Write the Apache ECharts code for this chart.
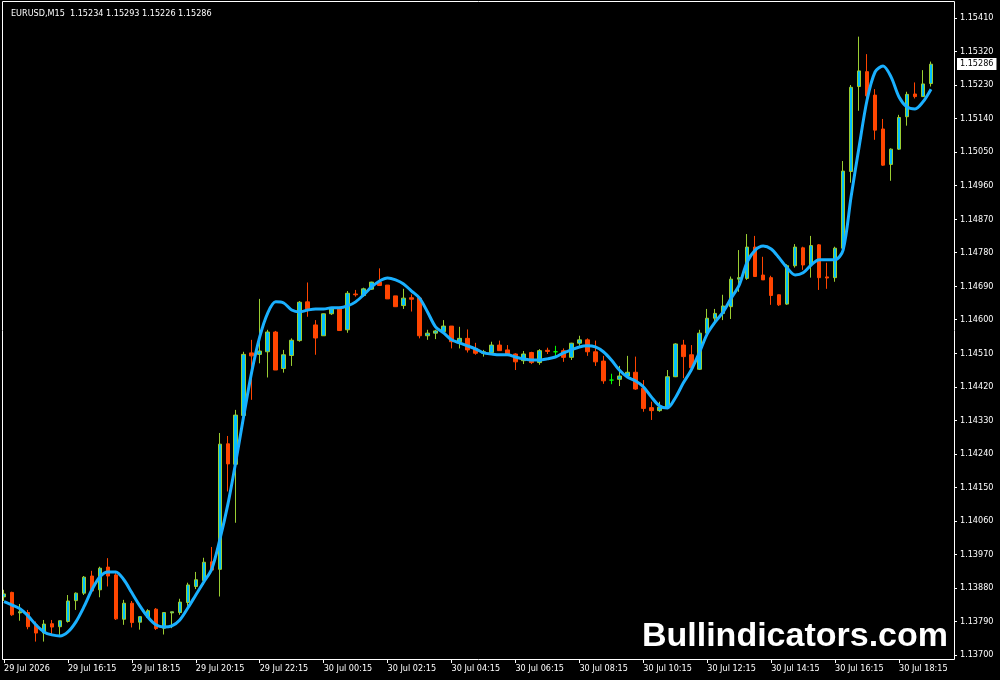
<!DOCTYPE html>
<html><head><meta charset="utf-8">
<script src="https://cdn.jsdelivr.net/npm/echarts@6/dist/echarts.min.js"></script>
<style>html,body{margin:0;padding:0;background:#000}#c{width:1000px;height:680px}</style>
</head><body><div id="c"></div>
<script>
const symbolName = 'EURUSD,M15';
const tickLabels = ['29 Jul 2026','29 Jul 16:15','29 Jul 18:15','29 Jul 20:15','29 Jul 22:15','30 Jul 00:15','30 Jul 02:15','30 Jul 04:15','30 Jul 06:15','30 Jul 08:15','30 Jul 10:15','30 Jul 12:15','30 Jul 14:15','30 Jul 16:15','30 Jul 18:15'];
const yTickValues = [1.13700,1.13790,1.13880,1.13970,1.14060,1.14150,1.14240,1.14330,1.14420,1.14510,1.14600,1.14690,1.14780,1.14870,1.14960,1.15050,1.15140,1.15230,1.15320,1.15410];

const open = [1.13856,1.13868,1.13813,1.13814,1.13781,1.13759,1.13784,1.13776,1.13790,1.13846,
1.13866,1.13912,1.13875,1.13936,1.13915,1.13796,1.13839,1.13788,1.13801,1.13823,
1.13772,1.13813,1.13814,1.13841,1.13884,1.13900,1.13950,1.13930,1.14267,1.14212,
1.14343,1.14511,1.14507,1.14514,1.14567,1.14469,1.14504,1.14544,1.14648,1.14586,
1.14557,1.14616,1.14629,1.14573,1.14669,1.14665,1.14682,1.14701,1.14693,1.14664,
1.14638,1.14659,1.14658,1.14557,1.14564,1.14568,1.14583,1.14541,1.14550,1.14523,
1.14510,1.14512,1.14532,1.14519,1.14508,1.14490,1.14512,1.14485,1.14518,1.14514,
1.14517,1.14499,1.14537,1.14546,1.14514,1.14489,1.14438,1.14440,1.14449,1.14459,
1.14416,1.14364,1.14356,1.14365,1.14447,1.14532,1.14506,1.14467,1.14564,1.14604,
1.14617,1.14635,1.14709,1.14711,1.14795,1.14720,1.14713,1.14667,1.14642,1.14745,
1.14793,1.14747,1.14801,1.14715,1.14713,1.14792,1.14998,1.15226,1.15266,1.15203,
1.15112,1.15017,1.15058,1.15145,1.15206,1.15199,1.15234];
const high = [1.13875,1.13870,1.13837,1.13821,1.13790,1.13794,1.13794,1.13792,1.13861,1.13868,
1.13912,1.13926,1.13937,1.13960,1.13920,1.13848,1.13845,1.13803,1.13823,1.13826,
1.13814,1.13816,1.13851,1.13894,1.13923,1.13961,1.13990,1.14296,1.14288,1.14358,
1.14514,1.14546,1.14656,1.14573,1.14570,1.14519,1.14550,1.14650,1.14700,1.14599,
1.14617,1.14632,1.14635,1.14677,1.14680,1.14686,1.14702,1.14738,1.14693,1.14664,
1.14683,1.14668,1.14662,1.14573,1.14573,1.14599,1.14583,1.14581,1.14574,1.14538,
1.14519,1.14541,1.14544,1.14532,1.14510,1.14516,1.14514,1.14521,1.14525,1.14530,
1.14523,1.14538,1.14557,1.14550,1.14544,1.14503,1.14455,1.14476,1.14503,1.14501,
1.14438,1.14380,1.14380,1.14465,1.14537,1.14546,1.14532,1.14573,1.14629,1.14629,
1.14667,1.14716,1.14787,1.14830,1.14825,1.14769,1.14718,1.14668,1.14749,1.14803,
1.14796,1.14825,1.14803,1.14753,1.14796,1.15026,1.15230,1.15360,1.15313,1.15219,
1.15139,1.15060,1.15150,1.15212,1.15237,1.15270,1.15293];
const low = [1.13845,1.13805,1.13792,1.13769,1.13736,1.13736,1.13754,1.13754,1.13787,1.13821,
1.13861,1.13866,1.13855,1.13884,1.13794,1.13781,1.13774,1.13768,1.13799,1.13767,
1.13755,1.13772,1.13808,1.13832,1.13877,1.13888,1.13928,1.13857,1.14139,1.14055,
1.14322,1.14385,1.14483,1.14445,1.14465,1.14458,1.14476,1.14541,1.14608,1.14506,
1.14557,1.14613,1.14571,1.14565,1.14662,1.14662,1.14680,1.14692,1.14656,1.14635,
1.14629,1.14622,1.14550,1.14546,1.14548,1.14564,1.14523,1.14523,1.14512,1.14506,
1.14501,1.14510,1.14517,1.14503,1.14465,1.14481,1.14481,1.14479,1.14508,1.14501,
1.14487,1.14492,1.14530,1.14503,1.14476,1.14428,1.14427,1.14422,1.14447,1.14412,
1.14353,1.14331,1.14353,1.14360,1.14446,1.14443,1.14461,1.14465,1.14559,1.14595,
1.14599,1.14602,1.14675,1.14707,1.14716,1.14707,1.14640,1.14637,1.14640,1.14740,
1.14734,1.14713,1.14680,1.14683,1.14702,1.14778,1.14968,1.15161,1.15176,1.15083,
1.15013,1.14973,1.15056,1.15121,1.15194,1.15199,1.15226];
const close = [1.13864,1.13808,1.13816,1.13776,1.13759,1.13783,1.13775,1.13792,1.13845,1.13866,
1.13909,1.13872,1.13933,1.13912,1.13797,1.13839,1.13787,1.13803,1.13819,1.13771,
1.13814,1.13816,1.13842,1.13888,1.13902,1.13949,1.13928,1.14266,1.14213,1.14344,
1.14507,1.14503,1.14516,1.14567,1.14465,1.14506,1.14545,1.14647,1.14629,1.14551,
1.14616,1.14629,1.14571,1.14671,1.14667,1.14683,1.14701,1.14692,1.14656,1.14635,
1.14658,1.14655,1.14557,1.14564,1.14570,1.14583,1.14541,1.14550,1.14519,1.14510,
1.14514,1.14532,1.14517,1.14506,1.14487,1.14508,1.14485,1.14517,1.14515,1.14514,
1.14499,1.14537,1.14546,1.14514,1.14487,1.14436,1.14438,1.14449,1.14459,1.14414,
1.14362,1.14356,1.14365,1.14447,1.14535,1.14501,1.14471,1.14564,1.14604,1.14617,
1.14637,1.14709,1.14713,1.14795,1.14716,1.14707,1.14665,1.14640,1.14745,1.14795,
1.14747,1.14799,1.14713,1.14712,1.14792,1.14999,1.15224,1.15268,1.15201,1.15109,
1.15015,1.15058,1.15143,1.15205,1.15199,1.15233,1.15286];
const maLine = [1.13843,1.13834,1.13824,1.13805,1.13781,1.13762,1.13754,1.13751,1.13762,1.13789,
1.13829,1.13875,1.13910,1.13923,1.13923,1.13902,1.13867,1.13832,1.13802,1.13781,
1.13775,1.13778,1.13794,1.13826,1.13861,1.13896,1.13931,1.14009,1.14103,1.14218,
1.14342,1.14460,1.14554,1.14618,1.14648,1.14645,1.14626,1.14621,1.14626,1.14629,
1.14629,1.14632,1.14632,1.14637,1.14648,1.14667,1.14688,1.14704,1.14712,1.14707,
1.14696,1.14677,1.14658,1.14621,1.14581,1.14565,1.14546,1.14538,1.14530,1.14522,
1.14511,1.14508,1.14506,1.14506,1.14500,1.14495,1.14492,1.14492,1.14495,1.14500,
1.14511,1.14519,1.14527,1.14530,1.14527,1.14514,1.14492,1.14465,1.14446,1.14436,
1.14420,1.14393,1.14369,1.14363,1.14390,1.14430,1.14465,1.14511,1.14562,1.14594,
1.14621,1.14658,1.14693,1.14755,1.14787,1.14798,1.14790,1.14766,1.14739,1.14720,
1.14726,1.14747,1.14761,1.14761,1.14761,1.14787,1.14930,1.15064,1.15190,1.15265,
1.15281,1.15252,1.15198,1.15171,1.15166,1.15185,1.15219];

// category labels: 15-minute bars starting 29 Jul 14:15
const categories = [];
for (let i = 0; i < open.length; i++) {
  const t = 14 * 60 + 15 + i * 15;
  const day = 29 + Math.floor(t / 1440);
  const m = t % 1440;
  categories.push(day + ' Jul ' + String(Math.floor(m / 60)).padStart(2, '0') + ':' + String(m % 60).padStart(2, '0'));
}
const candleData = open.map((o, i) => [o, close[i], low[i], high[i]]);
const last = open.length - 1;
const FONT = '"DejaVu Sans Condensed","Liberation Sans",sans-serif';

const chart = echarts.init(document.getElementById('c'), null, {renderer: 'canvas'});
chart.setOption({
  backgroundColor: '#000',
  animation: false,
  title: {
    text: symbolName + '  ' + [open[last], high[last], low[last], close[last]].map(v => v.toFixed(5)).join(' '),
    left: 6, top: 4,
    textStyle: {color: '#fff', fontSize: 9, fontWeight: 'normal', fontFamily: FONT}
  },
  grid: {left: -1, right: 65, top: 18, bottom: 25, containLabel: false},
  xAxis: {
    type: 'category', data: categories, boundaryGap: true, offset: 5,
    axisLine: {show: false},
    axisTick: {show: true, interval: 7, alignWithLabel: true, length: 3, lineStyle: {color: '#fff'}},
    axisLabel: {interval: 7, align: 'left', margin: 4, color: '#fff', fontSize: 9, fontFamily: FONT,
      formatter: (v, idx) => tickLabels[Math.round(idx / 8)] || ''},
    splitLine: {show: false}
  },
  yAxis: {
    type: 'value', position: 'right', offset: 19,
    min: yTickValues[0], max: yTickValues[yTickValues.length - 1], interval: 0.0009,
    axisLine: {show: false},
    axisTick: {show: true, length: 3, lineStyle: {color: '#fff'}},
    axisLabel: {color: '#fff', fontSize: 9, fontFamily: FONT, margin: 6, formatter: v => v.toFixed(5)},
    splitLine: {show: false}
  },
  graphic: [
    {type: 'rect', shape: {x: 2.5, y: 1.5, width: 952, height: 658}, style: {fill: null, stroke: '#fff', lineWidth: 1}, silent: true, z: 100},
    {type: 'text', x: 948, y: 637, style: {text: 'Bullindicators.com', fill: '#fff', font: 'bold 34px "Liberation Sans", Arial, sans-serif', textAlign: 'right', textVerticalAlign: 'middle'}, silent: true, z: 100}
  ],
  series: [
    {
      type: 'candlestick', data: candleData, barWidth: 4, z: 2,
      itemStyle: {color: '#00bfff', color0: '#ff4500', borderColor: '#9acd32', borderColor0: '#ff4500', borderColorDoji: '#00ff00', borderWidth: 1}
    },
    {
      type: 'line', data: maLine, smooth: 0.3, symbol: 'none', z: 3,
      lineStyle: {color: '#1ab0ff', width: 3}
    }
  ]
});

// current price tag, placed through the y axis scale
const priceY = chart.convertToPixel({yAxisIndex: 0}, close[last]);
chart.setOption({
  graphic: [
    {type: 'rect', shape: {x: 2.5, y: 1.5, width: 952, height: 658}, style: {fill: null, stroke: '#fff', lineWidth: 1}, silent: true, z: 100},
    {type: 'text', x: 948, y: 637, style: {text: 'Bullindicators.com', fill: '#fff', font: 'bold 34px "Liberation Sans", Arial, sans-serif', textAlign: 'right', textVerticalAlign: 'middle'}, silent: true, z: 100},
    {type: 'text', x: 957, y: Math.round(priceY), z: 100, silent: true,
      style: {text: close[last].toFixed(5), fill: '#000', backgroundColor: '#fff', padding: [2, 3, 1, 3],
        font: '9px ' + FONT, textAlign: 'left', textVerticalAlign: 'middle'}}
  ]
});
</script></body></html>
